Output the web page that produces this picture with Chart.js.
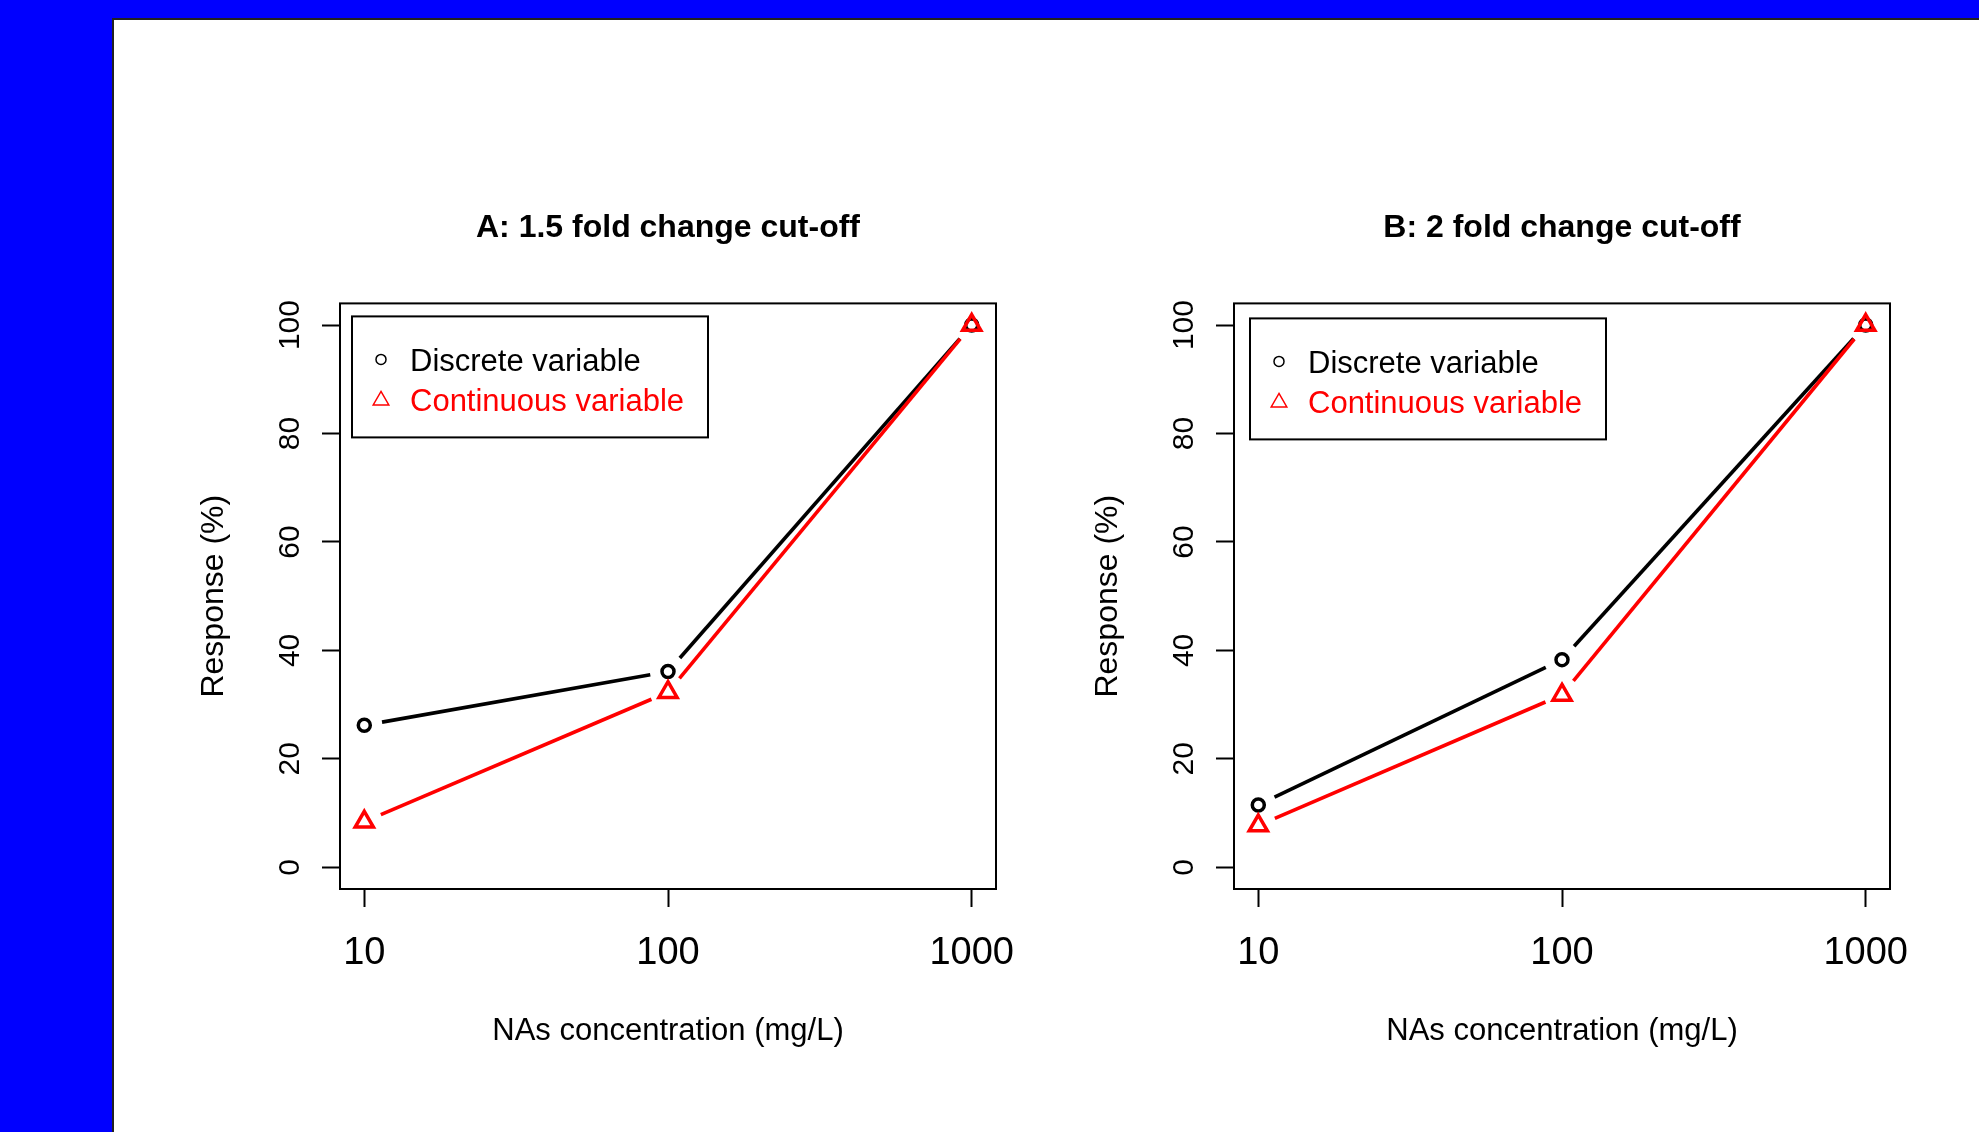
<!DOCTYPE html>
<html>
<head>
<meta charset="utf-8">
<script src="https://cdn.jsdelivr.net/npm/chart.js@4.4.0/dist/chart.umd.min.js"></script>
<style>
  html, body { margin: 0; padding: 0; }
  body { width: 1979px; height: 1132px; background: #0000ff; overflow: hidden; position: relative; }
  #panel { position: absolute; left: 112px; top: 18px; right: 0; bottom: 0; background: #fff;
           border-top: 2px solid #222; border-left: 2px solid #222; }
  canvas { position: absolute; top: 150px; }
  #chartA { left: 180px; }
  #chartB { left: 1074px; }
</style>
</head>
<body>
<div id="panel"></div>
<canvas id="chartA" width="976" height="950"></canvas>
<canvas id="chartB" width="976" height="950"></canvas>
<script>
// data
const concentrations = [10, 100, 1000];
const xTickValues = [10, 100, 1000];
const yTickValues = [0, 20, 40, 60, 80, 100];
const discreteA = [26.2, 36.1, 100];
const continuousA = [8.4, 32.3, 100];
const discreteB = [11.5, 38.3, 100];
const continuousB = [7.7, 31.8, 100];
const seriesLabels = ['Discrete variable', 'Continuous variable'];
const chartTitles = ['A: 1.5 fold change cut-off', 'B: 2 fold change cut-off'];
const xAxisTitle = 'NAs concentration (mg/L)';
const yAxisTitle = 'Response (%)';

const FONT = '"Liberation Sans", Arial, Helvetica, sans-serif';
const GAP = 18; // gap between line ends and markers (R type="b")

Chart.defaults.font.family = FONT;
Chart.defaults.color = '#000';

// R style: box round the plot, lines with gaps, legend box top-left
const rStyle = {
  id: 'rStyle',
  beforeDatasetsDraw(chart) {
    const ctx = chart.ctx;
    chart.data.datasets.forEach((ds, i) => {
      const pts = chart.getDatasetMeta(i).data;
      ctx.save();
      ctx.strokeStyle = ds.borderColor;
      ctx.lineWidth = 3.6;
      ctx.lineCap = 'butt';
      for (let k = 0; k < pts.length - 1; k++) {
        const a = pts[k], b = pts[k + 1];
        const dx = b.x - a.x, dy = b.y - a.y;
        const len = Math.hypot(dx, dy);
        if (len <= 2 * GAP) continue;
        const ux = dx / len, uy = dy / len;
        ctx.beginPath();
        ctx.moveTo(a.x + ux * GAP, a.y + uy * GAP);
        ctx.lineTo(b.x - ux * GAP, b.y - uy * GAP);
        ctx.stroke();
      }
      ctx.restore();
    });
  },
  afterDraw(chart, args, opts) {
    const { ctx, chartArea: ca } = chart;
    ctx.save();
    ctx.strokeStyle = '#000';
    ctx.lineWidth = 2;
    ctx.strokeRect(ca.left, ca.top, ca.right - ca.left, ca.bottom - ca.top);

    const lx = ca.left + opts.dx, ly = ca.top + opts.dy;
    ctx.fillStyle = '#fff';
    ctx.fillRect(lx, ly, opts.w, opts.h);
    ctx.strokeRect(lx, ly, opts.w, opts.h);

    ctx.font = '31px ' + FONT;
    ctx.textBaseline = 'middle';
    ctx.textAlign = 'left';
    chart.data.datasets.forEach((ds, i) => {
      const y = ly + 46 + i * 40;
      ctx.strokeStyle = ds.borderColor;
      ctx.fillStyle = 'rgba(0,0,0,0)';
      ctx.lineWidth = 1.5;
      Chart.helpers.drawPoint(ctx, {
        pointStyle: ds.pointStyle,
        radius: ds.pointStyle === 'triangle' ? 9 : 5,
        borderWidth: 1.5,
        rotation: 0
      }, lx + 29, y - (ds.pointStyle === 'triangle' ? 2 : 3));
      ctx.fillStyle = ds.borderColor;
      ctx.fillText(ds.label, lx + 58, y);
    });
    ctx.restore();
  }
};

function makeChart(id, title, discrete, continuous, legendPos) {
  return new Chart(document.getElementById(id), {
    type: 'scatter',
    data: {
      datasets: [
        {
          label: seriesLabels[0],
          data: concentrations.map((x, i) => ({ x: x, y: discrete[i] })),
          borderColor: '#000000',
          backgroundColor: 'rgba(0,0,0,0)',
          pointStyle: 'circle',
          pointRadius: 6,
          pointBorderWidth: 3.5,
          order: 1
        },
        {
          label: seriesLabels[1],
          data: concentrations.map((x, i) => ({ x: x, y: continuous[i] })),
          borderColor: '#ff0000',
          backgroundColor: 'rgba(0,0,0,0)',
          pointStyle: 'triangle',
          pointRadius: 10.5,
          pointBorderWidth: 3.5,
          order: 0
        }
      ]
    },
    options: {
      responsive: false,
      animation: false,
      events: [],
      devicePixelRatio: 1,
      layout: { padding: 0 },
      plugins: {
        legend: { display: false },
        tooltip: { enabled: false },
        title: {
          display: true,
          text: title,
          font: { size: 32, weight: 'bold', lineHeight: 1.2 },
          padding: { top: 59, bottom: 56 }
        },
        rStyle: legendPos
      },
      scales: {
        x: {
          type: 'logarithmic',
          min: Math.pow(10, 0.92),
          max: Math.pow(10, 3.08),
          afterBuildTicks: (s) => { s.ticks = xTickValues.map(v => ({ value: v })); },
          afterFit: (s) => { s.height = 211; },
          ticks: {
            font: { size: 38 },
            padding: 24,
            maxRotation: 0,
            autoSkip: false,
            callback: (v) => String(v)
          },
          grid: { display: true, drawOnChartArea: false, drawTicks: true, tickLength: 18, tickWidth: 2, tickColor: '#000' },
          border: { display: false },
          title: { display: true, text: xAxisTitle, font: { size: 31, lineHeight: 1.2 }, padding: { top: 0, bottom: 50 } }
        },
        y: {
          type: 'linear',
          min: -4,
          max: 104,
          afterBuildTicks: (s) => { s.ticks = yTickValues.map(v => ({ value: v })); },
          afterFit: (s) => { s.width = 160; },
          ticks: {
            font: { size: 30 },
            minRotation: 90,
            maxRotation: 90,
            crossAlign: 'center',
            padding: 6,
            autoSkip: false
          },
          grid: { display: true, drawOnChartArea: false, drawTicks: true, tickLength: 18, tickWidth: 2, tickColor: '#000' },
          border: { display: false },
          title: { display: true, text: yAxisTitle, font: { size: 32, lineHeight: 1.2 }, padding: { top: 15, bottom: 0 } }
        },
        // empty right-hand scale that only reserves space so the title centres over the plot
        yRight: {
          type: 'linear',
          position: 'right',
          display: true,
          min: -4,
          max: 104,
          afterFit: (s) => { s.width = 160; },
          ticks: { display: false },
          grid: { display: false },
          border: { display: false }
        }
      }
    },
    plugins: [rStyle]
  });
}

makeChart('chartA', chartTitles[0], discreteA, continuousA, { dx: 12, dy: 13, w: 356, h: 121 });
makeChart('chartB', chartTitles[1], discreteB, continuousB, { dx: 16, dy: 15, w: 356, h: 121 });
</script>
</body>
</html>
